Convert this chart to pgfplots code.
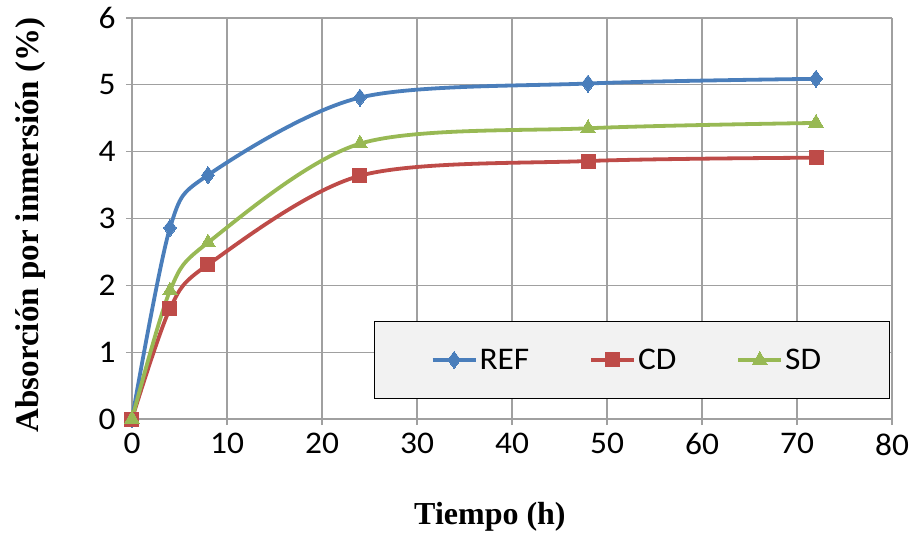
\documentclass[border=0pt]{standalone}
\usepackage{pgfplots}
\pgfplotsset{compat=1.18}
\usepackage{fontspec}
\setmainfont[FakeStretch=1.06]{Carlito}
\newfontfamily\timesfont{Liberation Serif}
\definecolor{cref}{HTML}{4A7EBB}
\definecolor{ccd}{HTML}{BE4B48}
\definecolor{csd}{HTML}{98B954}
\definecolor{cgrid}{HTML}{A0A0A0}
\definecolor{clegbg}{HTML}{F2F2F2}
\begin{document}
\begin{tikzpicture}
\useasboundingbox (-132pt,-117pt) rectangle (779pt,419pt);
\begin{axis}[
  at={(0pt,0pt)}, anchor=south west,
  scale only axis, width=760pt, height=401pt,
  xmin=0, xmax=80, ymin=0, ymax=6,
  xtick={0,10,...,80}, ytick={0,1,...,6},
  grid=major,
  major grid style={cgrid, line width=1.2pt},
  axis line style={cgrid, line width=1.2pt},
  axis x line*=bottom, axis y line*=left,
  tick style={cgrid, line width=1.2pt},
  tick align=outside, major tick length=6pt,
  /pgf/number format/assume math mode=true,
  tick label style={font=\fontsize{31.5}{36}\selectfont, text=black},
  xticklabel style={yshift=-5pt},
  yticklabel style={xshift=-7pt},
  xlabel={\timesfont\bfseries Tiempo (h)},
  ylabel={\timesfont\bfseries Absorción por inmersión (\%)},
  xlabel style={font=\fontsize{32}{36}\selectfont, at={(axis description cs:0.471,-0.245)}, anchor=center},
  ylabel style={font=\fontsize{33}{38}\selectfont, at={(axis description cs:-0.134,0.484)}, anchor=center, rotate=0},
  legend columns=3,
  legend style={at={(axis description cs:0.997,0.05)}, anchor=south east,
    fill=clegbg, draw=black, line width=1.2pt,
    font=\fontsize{31.5}{36}\selectfont,
    inner xsep=56pt, inner ysep=25.5pt,
    nodes={inner xsep=2pt},
    /tikz/every odd column/.append style={column sep=0pt},
    /tikz/every even column/.append style={column sep=58pt}},
  legend image code/.code={
    \draw[#1, mark=none] (0pt,0pt) -- (43pt,0pt);
    \draw[#1, only marks] plot coordinates {(21.5pt,0pt)};},
  every axis plot/.append style={line width=3.5pt, smooth, tension=0.5},
  clip=false,
]
\addplot[cref, line width=3.8pt, mark=diamond*, mark size=8.5pt, mark options={line width=0pt}] coordinates {
(0,0) (4,2.86) (8,3.65) (24,4.81) (48,5.02) (72,5.09)};
\addlegendentry{REF}
\addplot[ccd, line width=3.8pt, mark=square*, mark size=7pt, mark options={line width=0pt}] coordinates {
(0,0) (4,1.65) (8,2.31) (24,3.64) (48,3.86) (72,3.91)};
\addlegendentry{CD}
\addplot[csd, line width=3.8pt, mark=triangle*, mark size=8.5pt, mark options={line width=0pt}] coordinates {
(0,0) (4,1.92) (8,2.64) (24,4.12) (48,4.35) (72,4.43)};
\addlegendentry{SD\hspace*{10pt}}
\end{axis}
\end{tikzpicture}
\end{document}
